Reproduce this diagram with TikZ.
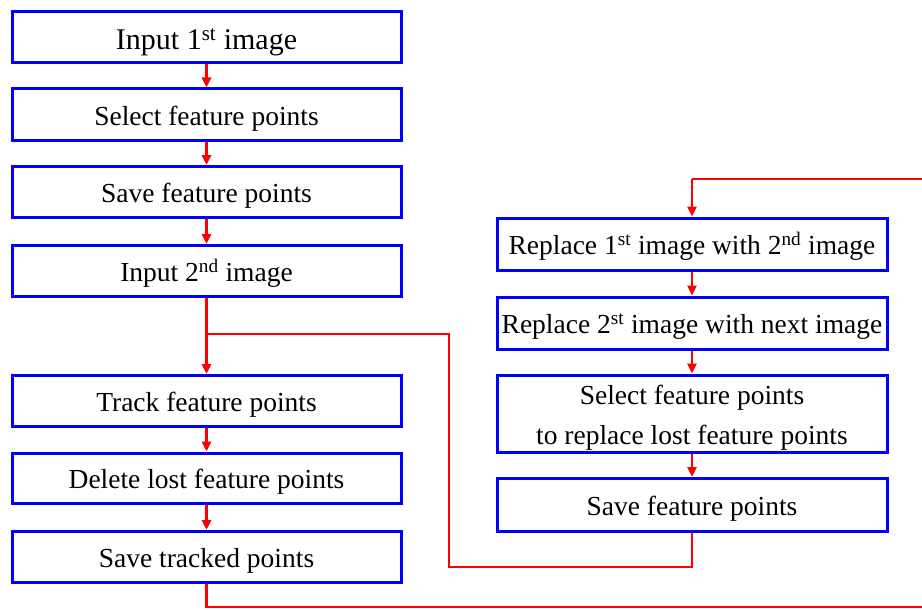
\documentclass[tikz,border=0pt]{standalone}
\usepackage{fontspec}
\setmainfont{Liberation Serif}
\usetikzlibrary{arrows.meta}
\begin{document}
\begin{tikzpicture}[x=1pt,y=-1pt,
  box/.style={draw=blue,line width=3pt,fill=white,minimum width=389pt,minimum height=51pt,inner sep=0pt,align=center,font=\fontsize{27.5}{40}\selectfont,text height=21pt,text depth=0pt},
  conn/.style={draw=red,line width=2.6pt},
  arr/.style={conn,-{Triangle[length=10pt,width=9pt]}}]
\useasboundingbox (0,0) rectangle (922,610);
\newcommand{\sups}[1]{\textsuperscript{#1}}
\node[box,font=\fontsize{30}{36}\selectfont,text height=25pt] (b1) at (206.5,37.5) {Input 1\sups{st} image};
\node[box] (b2) at (206.5,114.5) {Select feature points};
\node[box] (b3) at (206.5,192) {Save feature points};
\node[box] (b4) at (206.5,271) {Input 2\sups{nd} image};
\node[box] (b5) at (206.5,401) {Track feature points};
\node[box,minimum height=50pt] (b6) at (206.5,478) {Delete lost feature points};
\node[box] (b7) at (206.5,557) {Save tracked points};
\node[box,minimum width=390pt,minimum height=52pt] (r1) at (692,244) {Replace 1\sups{st} image with 2\sups{nd} image};
\node[box,minimum width=390pt,minimum height=52pt] (r2) at (692,323) {Replace 2\sups{st} image with next image};
\node[box,minimum width=390pt,minimum height=77pt,text height=63pt,text depth=2pt] (r3) at (692,413.5) {Select feature points\\to replace lost feature points};
\node[box,minimum width=390pt,minimum height=53pt] (r4) at (692,505) {Save feature points};
\coordinate (j) at (206.5,334);
\coordinate (lr) at (449,334);
\coordinate (lb) at (449,567);
\coordinate (bb) at (206.5,607);
\coordinate (br) at (940,607);
\coordinate (tr) at (940,179);
\coordinate (tl) at (692,179);
\draw[arr] (b1) -- (b2);
\draw[arr] (b2) -- (b3);
\draw[arr] (b3) -- (b4);
\draw[arr] (b4) -- (b5);
\draw[arr] (b5) -- (b6);
\draw[arr] (b6) -- (b7);
\draw[arr] (r1) -- (r2);
\draw[arr] (r2) -- (r3);
\draw[arr] (r3) -- (r4);
\draw[conn] (j) -- (lr) -- (lb) -| (r4.south);
\draw[conn] (b7.south) -- (bb) -- (br) -- (tr) -- (tl);
\draw[arr] (tl) -- (r1.north);
\end{tikzpicture}
\end{document}
